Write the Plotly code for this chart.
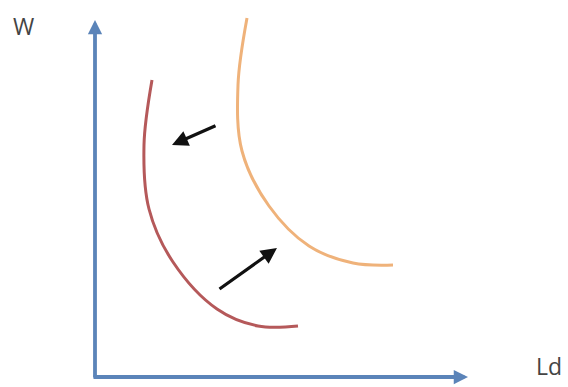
import plotly.graph_objects as go

# Labour demand curves (Ld on horizontal axis, wage W on vertical axis)
curve_left_ld = [57, 49, 54, 78, 122, 163, 203]
curve_left_w = [297, 232, 168, 115, 68, 51, 51]

curve_right_ld = [152, 143, 147, 174, 214, 258, 298]
curve_right_w = [359, 292, 226, 171, 131, 114, 112]

# Shift arrows: (tail_ld, tail_w, tip_ld, tip_w)
shift_arrows = [
    (122, 252, 77, 232),
    (123, 87, 182, 129),
]

# Axis extents
axis_w_top = 357
axis_ld_right = 373

fig = go.Figure()

fig.add_trace(go.Scatter(
    x=curve_left_ld, y=curve_left_w, mode="lines",
    line=dict(color="#b5595a", width=3, shape="spline", smoothing=1.0),
    hoverinfo="skip", showlegend=False,
))
fig.add_trace(go.Scatter(
    x=curve_right_ld, y=curve_right_w, mode="lines",
    line=dict(color="#efb27a", width=3, shape="spline", smoothing=1.0),
    hoverinfo="skip", showlegend=False,
))

annotations = []
# Axes drawn as arrows
annotations.append(dict(
    x=0, y=axis_w_top, ax=0, ay=-2, xref="x", yref="y", axref="x", ayref="y",
    text="", showarrow=True, arrowhead=2, arrowsize=0.75, arrowwidth=3.8,
    arrowcolor="#5b84b9",
))
annotations.append(dict(
    x=axis_ld_right, y=0, ax=-3, ay=0, xref="x", yref="y", axref="x", ayref="y",
    text="", showarrow=True, arrowhead=2, arrowsize=0.75, arrowwidth=3.8,
    arrowcolor="#5b84b9",
))
for tx, ty, hx, hy in shift_arrows:
    annotations.append(dict(
        x=hx, y=hy, ax=tx, ay=ty, xref="x", yref="y", axref="x", ayref="y",
        text="", showarrow=True, arrowhead=2, arrowsize=1.0, arrowwidth=3.2,
        arrowcolor="#111111",
    ))

# Axis titles
annotations.append(dict(
    x=-72, y=351, xref="x", yref="y", text="W", showarrow=False,
    font=dict(family="Open Sans", size=23, color="#444444"),
))
annotations.append(dict(
    x=454, y=11, xref="x", yref="y", text="Ld", showarrow=False,
    font=dict(family="Open Sans", size=23, color="#444444"),
))

fig.update_layout(
    width=568, height=387,
    margin=dict(l=0, r=0, t=0, b=0),
    paper_bgcolor="white", plot_bgcolor="white",
    xaxis=dict(range=[-95, 473], visible=False, fixedrange=True),
    yaxis=dict(range=[-10, 377], visible=False, fixedrange=True),
    annotations=annotations,
)

fig.write_html("out.html")
